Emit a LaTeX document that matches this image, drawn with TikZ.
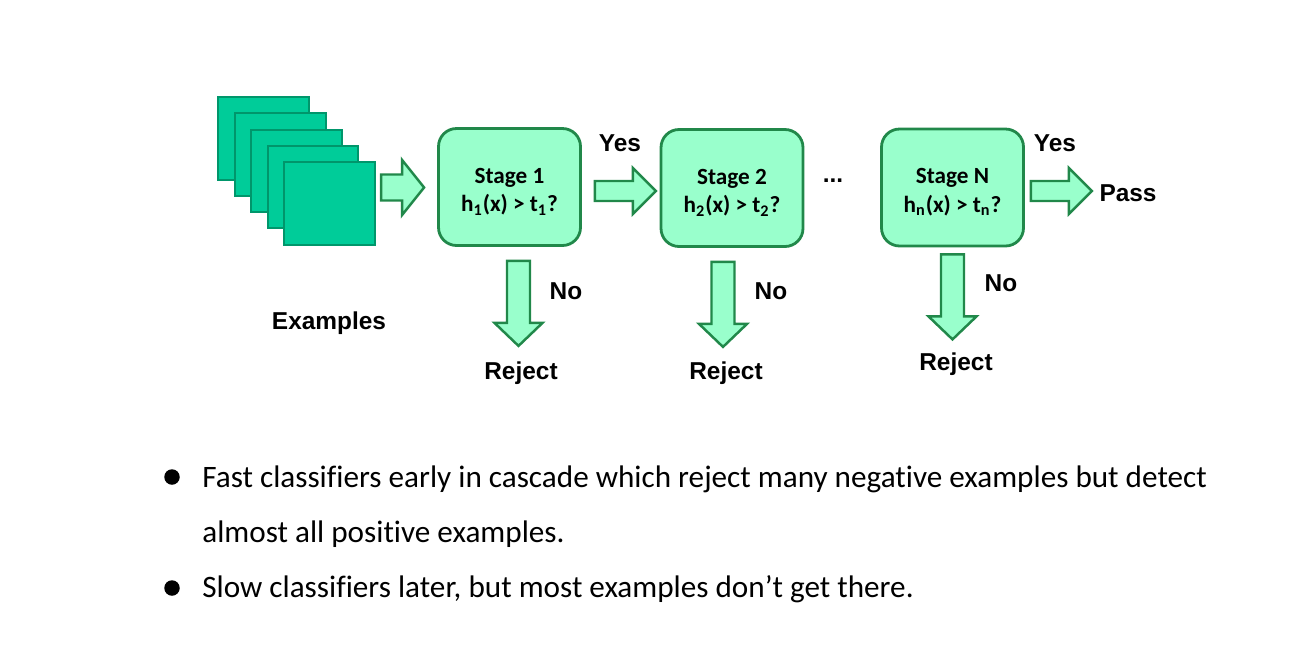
\documentclass[tikz,border=0pt]{standalone}
\usepackage{fontspec}
\setmainfont{Carlito}[Ligatures={NoCommon}]
\newfontfamily\arialfont{Liberation Sans}
\usepackage{xcolor}
\usetikzlibrary{calc}
\definecolor{sqfill}{HTML}{00CC99}
\definecolor{sqline}{HTML}{00966B}
\definecolor{stfill}{HTML}{99FFCC}
\definecolor{stline}{HTML}{21884A}
\newcommand{\stagestrut}{\rule{0pt}{14pt}}

\tikzset{
  sample/.style={fill=sqfill,draw=sqline,line width=1.5pt},
  stagebox/.style={rectangle,rounded corners=0.36cm,fill=stfill,draw=stline,line width=1.6pt,
    minimum width=2.84cm,minimum height=2.34cm,align=center,
    font=\fontsize{13.2}{16.4}\selectfont\bfseries},
  lbl/.style={font=\fontsize{13.9}{16}\selectfont\arialfont\bfseries,inner sep=0pt},
  bodytext/.style={font=\fontsize{17.75}{20}\selectfont,anchor=base west,inner sep=0pt},
  bullet/.style={circle,fill=black,inner sep=0pt,minimum size=0.31cm},
  pics/fatarrow/.style n args={4}{code={
    \draw[fill=stfill,draw=stline,line width=1.4pt,line join=miter]
      (0,-#4/2) -- ({#1-#2},-#4/2) -- ({#1-#2},-#3/2) -- (#1,0)
      -- ({#1-#2},#3/2) -- ({#1-#2},#4/2) -- (0,#4/2) -- cycle;}},
}

\begin{document}
\begin{tikzpicture}[x=0.02cm,y=-0.02cm]
  \useasboundingbox (0,0) rectangle (1310,663);
  % stack of examples
  \filldraw[sample] (218,97) rectangle (309,180);
  \filldraw[sample] (235,113) rectangle (326,196);
  \filldraw[sample] (251,130) rectangle (342,212);
  \filldraw[sample] (268,146) rectangle (358,228);
  \filldraw[sample] (284,162) rectangle (375,245);
  \node[lbl] (examples) at (329,323) {Examples};
  % stages
  \node[stagebox] (s1) at (509.5,187) {\stagestrut Stage 1\\h\textsubscript{1}(x) > t\textsubscript{1}?};
  \node[stagebox] (s2) at (732,188) {\stagestrut Stage 2\\h\textsubscript{2}(x) > t\textsubscript{2}?};
  \node[stagebox] (sN) at (952.5,187.5) {\stagestrut Stage N\\h\textsubscript{n}(x) > t\textsubscript{n}?};
  \node[lbl] (dots) at (833,181) {...};
  % arrows to the right
  \pic at ($(s1.west)+(-56,0.5)$) {fatarrow={43}{22}{55}{26}};
  \pic at ($(s1.east)+(13,4)$) {fatarrow={61}{23}{46}{20}};
  \pic at ($(sN.east)+(6,3.5)$) {fatarrow={61}{23}{46}{20}};
  \node[lbl] (yes1) at (620,143) {Yes};
  \node[lbl] (yesN) at (1055,143) {Yes};
  \node[lbl] (pass) at (1128,193) {Pass};
  % arrows down
  \pic[rotate=-90] at ($(s1.south)+(9,14)$) {fatarrow={85}{23}{48}{23}};
  \pic[rotate=-90] at ($(s2.south)+(-9,14)$) {fatarrow={85}{23}{48}{23}};
  \pic[rotate=-90] at ($(sN.south)+(0,7)$) {fatarrow={85}{23}{48}{23}};
  \node[lbl] (no1) at (566,291) {No};
  \node[lbl] (no2) at (771,291) {No};
  \node[lbl] (noN) at (1001,283) {No};
  \node[lbl] (rej1) at (521,373) {Reject};
  \node[lbl] (rej2) at (726,373) {Reject};
  \node[lbl] (rejN) at (956,364) {Reject};
  % bullet points
  \node[bullet] (d1) at (172,477) {};
  \node[bodytext] (b1) at (202,487) {Fast classifiers early in cascade which reject many negative examples but detect};
  \node[bodytext] (b1b) at (202,542) {almost all positive examples.};
  \node[bullet] (d2) at (172,588) {};
  \node[bodytext] (b2) at (202,597) {Slow classifiers later, but most examples don’t get there.};
\end{tikzpicture}
\end{document}
